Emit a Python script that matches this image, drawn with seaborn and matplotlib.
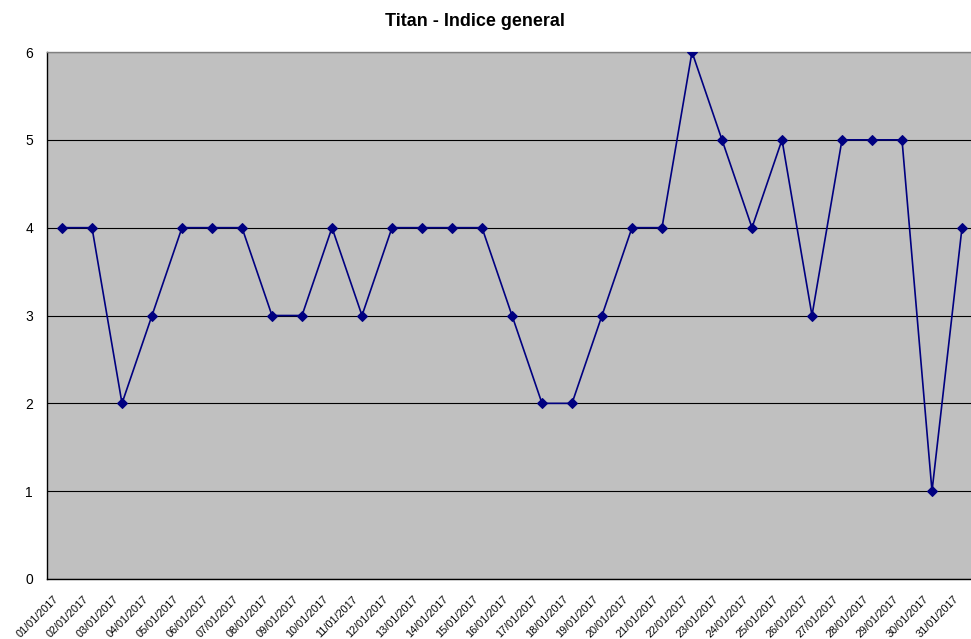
import matplotlib
matplotlib.use("Agg")
import matplotlib.pyplot as plt
import matplotlib.transforms as mtransforms
import numpy as np
import pandas as pd
import seaborn as sns
from matplotlib.ticker import FixedLocator

# ── Data ───────────────────────────────────────────────────────────────────
DATES = [f"{d:02d}/01/2017" for d in range(1, 32)]
VALUES = [4, 4, 2, 3, 4, 4, 4, 3, 3, 4, 3, 4, 4, 4, 4, 3,
          2, 2, 3, 4, 4, 6, 5, 4, 5, 3, 5, 5, 5, 1, 4]

df = pd.DataFrame({"pos": np.arange(len(DATES)), "fecha": DATES, "indice": VALUES})

sns.set_style("white")
plt.rcParams["font.family"] = ["Liberation Sans", "DejaVu Sans"]
plt.rcParams["text.color"] = "black"

W, H = 971, 639
fig = plt.figure(figsize=(W / 100, H / 100), dpi=100)
ax = fig.add_axes([47 / W, 1 - 579 / H, (971 - 47) / W, (579 - 52) / H])
ax.set_facecolor("#C0C0C0")

sns.lineplot(data=df, x="pos", y="indice", ax=ax, color="#000080", lw=1.2,
             marker="D", markersize=4.8, markeredgecolor="#000080", zorder=3)

ax.set_ylim(0, 6)
ax.set_xlim(-0.5, 30.3)
ax.set_yticks(range(0, 7))
ax.yaxis.grid(True, color="black", lw=0.8)
ax.set_axisbelow(True)
ax.tick_params(axis="y", length=4, width=0.8, labelsize=10, pad=6, colors="black")

# category labels at centres, tick marks at category boundaries
ax.set_xticks(df["pos"])
ax.set_xticklabels(DATES, rotation=45, ha="right", va="top",
                   rotation_mode="anchor", fontsize=7.8, color="black")
ax.tick_params(axis="x", which="major", length=0, pad=11)
ax.xaxis.set_minor_locator(FixedLocator(np.arange(-0.5, 31, 1)))
ax.tick_params(axis="x", which="minor", length=4, width=0.8, color="black")
shift = mtransforms.ScaledTranslation(-9 / 100, 0, fig.dpi_scale_trans)
for lbl in ax.get_xticklabels():
    lbl.set_transform(lbl.get_transform() + shift)

ax.set_xlabel("")
ax.set_ylabel("")
for side in ["left", "bottom"]:
    ax.spines[side].set_color("black")
    ax.spines[side].set_linewidth(1)
ax.spines["top"].set_color("#808080")
ax.spines["top"].set_linewidth(1)
ax.spines["right"].set_visible(False)

fig.text(475 / W, 1 - 22 / H, "Titan - Indice general", ha="center", va="center",
         fontsize=13, fontweight="bold", color="black")

fig.savefig("out.png", dpi=100)
